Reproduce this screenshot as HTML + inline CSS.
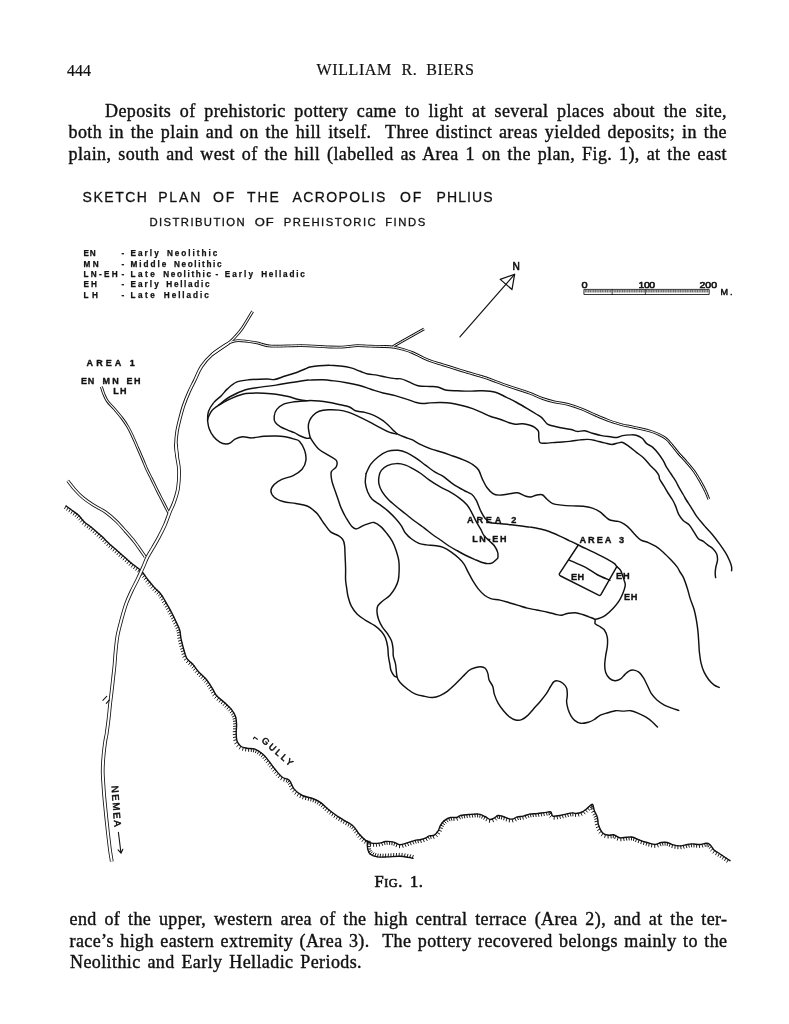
<!DOCTYPE html>
<html><head><meta charset="utf-8">
<style>
html,body{margin:0;padding:0;background:#fff;}
body{filter:grayscale(1);width:789px;height:1024px;position:relative;overflow:hidden;font-family:"Liberation Serif",serif;color:#111;}
.l{position:absolute;white-space:nowrap;font-size:18px;letter-spacing:0.4px;-webkit-text-stroke:0.4px #111;line-height:22px;text-align:justify;text-align-last:justify;}
.h{position:absolute;white-space:nowrap;font-size:16px;-webkit-text-stroke:0.2px #111;line-height:20px;text-align:justify;text-align-last:justify;}
svg{position:absolute;left:0;top:0;}
svg text{font-family:"Liberation Sans",sans-serif;fill:#111;}
</style></head><body>
<div class="h" style="left:67px;top:61.3px;width:22.5px;">444</div>
<div class="h" style="left:316.5px;top:60px;letter-spacing:0.6px;text-align-last:left;">WILLIAM</div>
<div class="h" style="left:401.4px;top:60px;letter-spacing:0.6px;text-align-last:left;">R.</div>
<div class="h" style="left:426.2px;top:60px;letter-spacing:0.6px;text-align-last:left;">BIERS</div>
<div class="l" style="left:105px;top:100px;width:622px;">Deposits of prehistoric pottery came to light at several places about the site,</div>
<div class="l" style="left:68.5px;top:121.2px;width:658.5px;">both in the plain and on the hill itself.&nbsp; Three distinct areas yielded deposits; in the</div>
<div class="l" style="left:68.5px;top:143.2px;width:658.5px;">plain, south and west of the hill (labelled as Area 1 on the plan, Fig. 1), at the east</div>

<div class="l" style="left:69.5px;top:908px;width:658px;">end of the upper, western area of the high central terrace (Area 2), and at the ter-</div>
<div class="l" style="left:69.5px;top:929.5px;width:658px;">race’s high eastern extremity (Area 3).&nbsp; The pottery recovered belongs mainly to the</div>
<div class="l" style="left:70px;top:950.8px;width:292px;">Neolithic and Early Helladic Periods.</div>
<div class="l" style="left:374.6px;top:870.7px;font-size:16.5px;letter-spacing:0.5px;-webkit-text-stroke:0.6px #111;text-align:left;text-align-last:left;">F<span style="font-size:12.2px">IG</span>.</div>
<div class="l" style="left:410px;top:870.7px;font-size:16.5px;-webkit-text-stroke:0.6px #111;text-align:left;text-align-last:left;">1.</div>

<svg width="789" height="1024" viewBox="0 0 789 1024" fill="none" stroke="#111" stroke-width="1.2" stroke-linecap="round" stroke-linejoin="round">
<path d="M66.1 506C67.1 506.8 70.2 509 72.2 510.5C74.2 512 76.3 513.2 78.3 515.1C80.3 517 82.3 520 84.3 521.9C86.3 523.8 88.4 524.9 90.4 526.5C92.4 528.1 94.5 530 96.5 531.8C98.5 533.6 100.6 535.2 102.6 537.1C104.6 539 106.7 541.3 108.7 543.2C110.7 545.1 112.8 546.8 114.8 548.6C116.8 550.4 118.8 552.1 120.8 553.9C122.8 555.7 124.9 557.4 126.9 559.2C128.9 561 131 562.9 133 564.5C135 566.1 137.4 567.6 139.1 569.1C140.8 570.6 141.7 571.3 143.2 573.2C144.7 575.1 146.5 577.9 148.3 580.3C150.2 582.7 152.3 585.2 154.3 587.4C156.3 589.6 158.5 591.1 160.4 593.5C162.3 595.9 163.8 598.7 165.5 601.6C167.2 604.5 168.9 607.5 170.6 610.7C172.3 613.9 174.1 617.6 175.6 620.8C177.1 624 178.8 627 179.7 630C180.6 633 180.4 635.9 181.1 639.1C181.8 642.3 182.8 646 183.7 649.2C184.6 652.4 185.3 655.9 186.8 658.4C188.3 660.9 191 662.3 192.9 664.4C194.8 666.5 195.9 668.7 198.1 671.2C200.3 673.7 203.8 676.4 206.2 679.3C208.6 682.2 210.6 685.7 212.3 688.4C214 691.1 214.4 693.1 216.4 695.5C218.4 697.9 222 700.2 224.5 702.6C227 705 229.8 707.3 231.6 709.7C233.4 712.1 234.8 714.3 235.6 716.8C236.4 719.3 236.5 722.2 236.6 724.9C236.7 727.6 236.1 730.3 236.2 733C236.3 735.7 236.2 738.9 237 741.1C237.8 743.3 239.1 745 240.7 746.2C242.3 747.4 244.4 747.7 246.8 748.2C249.2 748.7 252.2 748.2 254.9 749.2C257.6 750.2 260.6 752.3 263 754.3C265.4 756.3 267.1 758.9 269.1 761.4C271.1 763.9 273 766.9 275.2 769.5C277.4 772.1 279.8 775.4 282.2 777.2C284.6 779 287.3 778.3 289.3 780.3C291.3 782.3 292.1 786.9 294.3 789.4C296.5 791.9 299.3 794 302.4 795.5C305.4 797 309.6 797.3 312.6 798.5C315.7 799.7 318 800.7 320.7 802.6C323.4 804.5 326.1 807.5 328.8 809.7C331.5 811.9 334.2 813.9 336.9 815.8C339.6 817.6 342.3 819.1 345 820.8C347.7 822.5 350.7 823.7 353.1 825.9C355.5 828.1 357.2 831.6 359.2 834C361.2 836.4 363.3 838.6 365.3 840.1C367.3 841.6 369 842.6 371.4 843.1C373.8 843.6 377.1 843.4 379.5 843.1C381.9 842.8 383.2 841.7 385.6 841.5C388 841.3 391.3 841.6 393.7 842.1C396.1 842.6 397.4 844.7 399.8 844.8C402.2 844.9 405.2 843.5 407.9 842.7C410.6 841.9 414 840.6 416 840.1C418 839.6 418.3 840.2 420 839.8C421.7 839.4 424.6 838.5 426.1 837.8C427.6 837.1 427.8 836.2 429.1 835.8C430.5 835.4 432.7 836.1 434.2 835.2C435.7 834.4 437.3 832.3 438.3 830.7C439.3 829.1 439.3 827.3 440.3 825.6C441.3 823.9 442.6 822 444.3 820.6C446 819.2 448.4 818 450.4 817.5C452.4 817 454.8 817.8 456.5 817.5C458.2 817.2 458.6 816 460.6 815.5C462.6 815 465.7 814.7 468.7 814.5C471.7 814.3 476.1 813.8 478.8 814.1C481.5 814.4 483 815.6 484.9 816.5C486.8 817.4 488.5 819.2 490 819.5C491.5 819.8 492.6 818.8 494 818.1C495.4 817.4 496.6 815.8 498.1 815.5C499.6 815.2 501.2 815.9 503.1 816.5C505 817.1 507.5 818.5 509.2 818.9C510.9 819.3 511.9 819.2 513.3 818.9C514.6 818.6 515.6 817.4 517.3 816.9C519 816.4 521.4 816.6 523.4 816.1C525.4 815.6 527.1 814.5 529.5 814.1C531.9 813.7 534.9 813.8 537.6 813.5C540.3 813.2 543.5 812.6 545.7 812.4C547.9 812.1 549.6 811.4 550.8 812C552 812.6 551.3 815.5 552.8 816.1C554.3 816.7 557.7 815.8 559.9 815.5C562.1 815.2 564 814.5 566 814.1C568 813.7 570.4 813 572.1 812.9C573.8 812.8 574.4 813.6 576.1 813.5C577.8 813.4 580.4 812.9 582.2 812C584.1 811.1 585.5 809.7 587.2 808.4C588.9 807.1 591.1 804 592.3 804.3C593.5 804.6 593.4 808.2 594.3 810.4C595.1 812.6 596.7 815.1 597.4 817.5C598.1 819.9 597.6 822.1 598.4 824.6C599.2 827.1 600.7 830.9 602.4 832.7C604.1 834.5 606.6 834.9 608.5 835.2C610.4 835.6 611.7 834.4 613.6 834.8C615.5 835.2 617.5 837.4 619.7 837.8C621.9 838.2 624.6 837.3 626.8 837.2C629 837.1 630.9 836.8 632.9 837.2C634.9 837.6 636.6 838.9 639 839.8C641.4 840.7 644.4 841.7 647.1 842.5C649.8 843.3 652.8 844.5 655.2 844.5C657.6 844.5 659.3 842.8 661.3 842.5C663.3 842.2 665.3 842.1 667.3 842.5C669.3 842.9 671.4 844.3 673.4 844.9C675.4 845.5 677.5 845.9 679.5 845.9C681.5 845.9 683.6 845.2 685.6 844.9C687.6 844.6 689.3 844 691.7 843.9C694.1 843.8 697.4 844.6 699.8 844.5C702.2 844.4 704.2 843.3 705.9 843.3C707.6 843.3 708.5 843.4 709.9 844.5C711.2 845.6 712.3 848.4 714 850C715.7 851.6 718.1 852.6 720.1 854C722.1 855.4 724.6 857 726.2 858.1C727.9 859.2 729.4 860.3 730 860.7" stroke-width="1.4"/>
<path d="M66.1 506L64.6 508.6M68.3 507.6L66.7 510.2M70.4 509.2L68.9 511.8M72.6 510.8L71.1 513.4M74.8 512.4L73.3 515M77 514L75.3 516.5M79 515.8L77 518.1M80.8 517.8L78.7 520M82.5 519.9L80.4 522.1M84.3 521.9L82.5 524.3M86.4 523.6L84.8 526.2M88.6 525.2L87.1 527.8M90.7 526.8L89.1 529.3M92.8 528.5L91.1 531M94.8 530.3L93.1 532.8M96.9 532.1L95.1 534.6M98.9 533.9L97.2 536.3M101 535.6L99.2 538.1M103 537.4L101.1 539.8M104.9 539.3L102.9 541.7M106.8 541.3L104.8 543.6M108.7 543.2L106.8 545.6M110.7 545L108.9 547.4M112.7 546.8L111 549.2M114.7 548.5L113 551M116.8 550.3L115 552.8M118.8 552.1L117 554.6M120.8 553.9L119.1 556.4M122.8 555.7L121.1 558.1M124.9 557.4L123.1 559.9M126.9 559.2L125.2 561.7M128.9 561L127.2 563.5M131 562.8L129.2 565.3M133 564.5L131.4 567.1M135.2 566.2L133.6 568.7M137.4 567.7L135.8 570.3M139.5 569.4L137.8 571.9M141.5 571.3L139.5 573.6M143.3 573.3L141.1 575.4M144.9 575.4L142.6 577.4M146.4 577.7L144.1 579.6M148 579.9L145.8 581.9M149.6 582L147.5 584.1M151.4 584.1L149.3 586.2M153.1 586.1L151.1 588.3M155 588.1L153 590.4M156.9 589.9L155.1 592.3M158.9 591.8L156.9 594.1M160.7 593.8L158.5 595.9M162.2 596.1L159.8 597.9M163.6 598.4L161.2 600.1M165 600.7L162.5 602.5M166.3 603L163.9 604.8M167.7 605.4L165.2 607.1M169 607.7L166.5 609.4M170.3 610.1L167.8 611.8M171.5 612.5L169 614.1M172.7 614.9L170.2 616.5M173.9 617.3L171.4 618.9M175.1 619.7L172.5 621.3M176.3 622.2L173.7 623.8M177.5 624.6L174.9 626.2M178.6 627.1L176 628.5M179.6 629.6L176.8 630.8M180.2 632.2L177.3 633M180.5 634.9L177.6 635.5M180.8 637.6L177.9 638.3M181.3 640.2L178.5 641.1M182 642.8L179.1 643.8M182.6 645.4L179.8 646.5M183.4 648L180.6 649.2M184.1 650.6L181.3 651.7M184.8 653.3L182 654.4M185.6 655.8L182.9 657.2M186.7 658.3L184.3 660.1M188.4 660.4L186.5 662.7M190.5 662.2L188.7 664.6M192.5 663.9L190.5 666.2M194.2 666L192 668.1M195.8 668.2L193.5 670.2M197.4 670.4L195.3 672.5M199.2 672.4L197.3 674.7M201.2 674.2L199.3 676.6M203.1 676.1L201.3 678.4M205 678L203 680.2M206.8 680L204.6 682.1M208.4 682.2L206.1 684.2M209.9 684.5L207.5 686.4M211.3 686.8L208.9 688.6M212.7 689.1L210.2 690.8M213.9 691.5L211.4 693.1M215.2 693.9L212.8 695.7M216.8 696L214.8 698.2M218.8 697.8L217.1 700.3M220.9 699.6L219.2 702.1M223 701.3L221.3 703.7M225 703.1L223.2 705.5M227 704.9L225.1 707.3M228.9 706.8L227 709.1M230.8 708.7L228.7 710.9M232.5 710.8L230.2 712.8M233.9 713.1L231.5 714.9M235.1 715.5L232.5 716.9M236 718.1L233.1 719.1M236.4 720.8L233.4 721.4M236.5 723.5L233.6 723.9M236.6 726.1L233.6 726.4M236.4 728.8L233.4 728.9M236.2 731.5L233.2 731.7M236.2 734.2L233.2 734.6M236.3 736.9L233.4 737.5M236.6 739.6L233.8 740.5M237.4 742.2L234.8 743.7M238.9 744.5L236.7 746.6M240.8 746.3L239.4 749M243.3 747.4L242.6 750.3M245.9 748L245.6 751M248.6 748.4L248.6 751.4M251.3 748.5L251.3 751.6M253.9 748.9L253.5 751.9M256.5 749.9L255.5 752.7M258.8 751.2L257.5 753.9M261 752.7L259.5 755.3M263.1 754.4L261.4 756.9M265 756.3L263 758.6M266.8 758.4L264.6 760.5M268.4 760.5L266.2 762.6M270.1 762.7L267.9 764.7M271.7 764.8L269.4 766.9M273.3 767L271.1 769.1M274.9 769.2L272.8 771.3M276.6 771.3L274.5 773.4M278.4 773.3L276.3 775.5M280.2 775.3L278.2 777.7M282.2 777.2L280.7 779.8M284.6 778.3L283.8 781.2M287.2 779L286.3 781.9M289.4 780.5L287.5 782.8M290.9 782.7L288.4 784.4M292 785.2L289.4 786.7M293.1 787.6L290.7 789.4M294.7 789.8L292.6 792M296.6 791.7L294.9 794.2M298.8 793.4L297.3 796M301 794.8L299.9 797.6M303.5 796L302.6 798.9M306 796.8L305.5 799.7M308.7 797.4L308.2 800.4M311.3 798.1L310.7 801M313.8 799L313 801.9M316.3 800.1L315.3 802.9M318.7 801.3L317.4 804.1M321 802.8L319.4 805.4M323.1 804.5L321.3 806.9M325 806.3L323.2 808.7M327 808.1L325.2 810.6M329.1 809.9L327.4 812.4M331.2 811.6L329.6 814.1M333.3 813.2L331.8 815.8M335.5 814.8L334 817.4M337.7 816.4L336.3 819M340 817.8L338.7 820.5M342.3 819.2L341 821.9M344.6 820.6L343.4 823.3M347 821.9L345.7 824.7M349.3 823.2L348.1 826M351.6 824.7L350.1 827.3M353.6 826.5L351.7 828.8M355.3 828.6L353.1 830.6M356.9 830.8L354.6 832.7M358.4 833L356.2 835.1M360.1 835.1L358.1 837.3M362 837.1L360 839.4M363.9 838.9L362.1 841.4M366 840.6L364.5 843.2M368.3 842L367.3 844.9M370.8 843L370.4 845.9M373.5 843.4L373.6 846.4M376.2 843.4L376.6 846.4M378.9 843.2L379.6 846.1M381.5 842.6L382.6 845.4M384.1 841.8L385 844.6M386.8 841.5L387.2 844.4M389.5 841.5L389.6 844.5M392.1 841.8L391.9 844.8M394.8 842.5L393.9 845.4M397.1 843.8L396.1 846.7M399.6 844.8L399.5 847.8M402.3 844.5L403.1 847.4M404.8 843.7L406 846.5M407.4 842.9L408.6 845.6M410 842L411.2 844.8M412.5 841.2L413.8 843.9M415.1 840.3L416.1 843.2M417.7 839.9L418.4 842.8M420.4 839.7L421.3 842.6M423 838.9L424.2 841.7M425.6 838L427.2 840.6M427.8 836.6L429.4 839.1M430.3 835.6L431.1 838.5M433 835.6L434 838.4M435.3 834.4L437.4 836.6M437.1 832.4L439.7 834M438.6 830.1L441.4 831.2M439.5 827.6L442.4 828.4M440.6 825.1L443.4 826.3M442.1 822.9L444.6 824.5M443.9 820.9L446.1 823M446.1 819.3L447.9 821.8M448.5 818.1L449.9 820.8M451.1 817.4L451.8 820.3M453.8 817.5L454 820.5M456.5 817.5L457.5 820.3M458.9 816.3L460.4 818.9M461.4 815.3L462.4 818.2M464.1 814.9L464.7 817.9M466.7 814.7L467.3 817.6M469.4 814.4L470 817.4M472.1 814.2L472.7 817.2M474.8 814L475.2 817M477.5 814L477.6 817M480.2 814.4L479.7 817.3M482.7 815.4L481.7 818.2M485.1 816.6L483.8 819.3M487.4 818.1L486 820.8M489.7 819.4L489.4 822.4M492.3 819L493.5 821.8M494.6 817.7L496.5 820.1M496.8 816.1L498.3 818.7M499.3 815.5L499.6 818.5M502 816.1L501.4 819.1M504.5 817L503.7 819.9M507 818.1L506.2 821M509.5 819L509.3 822M512.2 819.1L512.9 822M514.7 818.2L516.2 820.9M517.1 817L518.4 819.7M519.8 816.5L520.5 819.5M522.5 816.3L523.3 819.2M525.1 815.6L526.3 818.3M527.6 814.6L528.8 817.4M530.2 814L531 816.9M532.9 813.8L533.4 816.7M535.6 813.6L536.1 816.6M538.3 813.4L538.9 816.4M541 813.1L541.7 816M543.6 812.7L544.3 815.6M546.3 812.3L547.1 815.2M549 811.8L549.1 814.8M551.3 812.6L549.3 814.8M552 815.2L549.8 817.3M554.3 816.3L554.1 819.3M556.9 816L557.6 818.9M559.6 815.5L560.4 818.4M562.2 815L563.2 817.9M564.9 814.4L565.9 817.2M567.5 813.8L568.4 816.6M570.1 813.2L570.9 816.1M572.8 812.9L572.9 815.9M575.4 813.5L575.6 816.5M578.1 813.2L578.9 816.1M580.7 812.6L582 815.3M583.2 811.5L585 813.9M585.4 809.9L587.4 812.1M587.5 808.2L589.7 810.2M589.4 806.3L591.7 808.3M591.4 804.5L592.1 807.4M593.2 805.8L590.8 807.6M593.8 808.4L590.9 809.4M594.5 811L591.8 812.3M595.7 813.4L593.1 815M596.8 815.9L594.1 817.2M597.6 818.4L594.7 819.3M597.9 821.1L594.9 821.7M598.2 823.8L595.3 824.8M599 826.4L596.3 827.7M600.1 828.9L597.5 830.4M601.3 831.3L599 833.2M603.1 833.3L601.4 835.8M605.5 834.5L604.7 837.4M608.1 835.1L608.1 838.1M610.8 835L611.2 838M613.4 834.8L613.2 837.8M615.9 835.9L614.7 838.7M618.2 837.3L617.3 840.2M620.8 837.9L620.9 840.9M623.5 837.7L624.1 840.6M626.1 837.3L626.8 840.2M628.8 837.1L629.3 840M631.5 837L631.5 840M634.1 837.6L633.5 840.5M636.6 838.7L635.6 841.6M639.1 839.8L638.2 842.7M641.6 840.7L640.9 843.7M644.2 841.6L643.5 844.5M646.7 842.4L646.1 845.3M649.3 843.2L648.7 846.1M651.9 844L651.5 847M654.6 844.5L654.8 847.5M657.2 844.1L658.3 846.9M659.7 843L660.9 845.8M662.3 842.4L663 845.3M665 842.2L665.1 845.2M667.6 842.6L667.2 845.6M670.2 843.6L669.3 846.4M672.6 844.6L671.9 847.6M675.2 845.4L674.9 848.4M677.9 845.8L677.9 848.8M680.6 845.8L681.1 848.8M683.2 845.4L684.1 848.3M685.9 844.8L686.8 847.7M688.5 844.3L689.3 847.2M691.2 843.9L691.7 846.9M693.9 844L694 847M696.6 844.3L696.6 847.3M699.3 844.5L699.6 847.5M701.9 844.2L702.8 847.1M704.6 843.5L705.3 846.4M707.2 843.3L707 846.4M709.7 844.3L708.2 846.9M711.4 846.4L709.2 848.4M712.9 848.7L710.7 850.8M714.7 850.6L713 853.1M717 852.1L715.6 854.8M719.3 853.5L718 856.2M721.6 855L720.2 857.6M723.8 856.5L722.4 859.1M726 858L724.6 860.6M728.3 859.5L726.8 862.2" stroke-width="0.95"/>
<path d="M367.3 841.1C367.4 842.5 367.2 847 367.7 849.2C368.2 851.4 368.8 853 370.4 854.3C372 855.6 374.6 856.5 377.5 856.9C380.4 857.3 383.9 857 387.6 856.9C391.3 856.8 396.4 856.2 399.8 856.3C403.2 856.4 405.7 856.9 407.9 857.3C410.1 857.6 412.1 858.2 413 858.4" stroke-width="1.4"/>
<path d="M367.3 841.1L370.3 841.4M367.3 843.8L370.3 844.1M367.4 846.5L370.4 846.6M367.7 849.2L370.7 848.9M368.5 851.8L371.3 850.7M370 854L372.3 852M372.3 855.4L373.9 852.9M374.8 856.3L375.9 853.5M377.4 856.9L378.2 854M380.1 857.1L380.5 854.1M382.8 857.1L383.1 854.1M385.5 857L385.7 854M388.2 856.9L388.4 853.9M390.9 856.7L391 853.7M393.6 856.6L393.7 853.5M396.3 856.4L396.5 853.4M399 856.3L399.3 853.3M401.7 856.4L402.2 853.4M404.4 856.7L405.1 853.8M407.1 857.2L407.9 854.3M409.7 857.6L410.6 854.8M412.3 858.2L413.3 855.4" stroke-width="0.95"/>
<path d="M207.6 420.8C207.7 419.3 207.4 414.7 208.4 411.7C209.4 408.7 211.5 405.3 213.7 402.6C215.8 399.9 219 398 221.3 395.7C223.6 393.4 224.9 391.2 227.4 388.9C229.9 386.6 232.9 383.6 236.5 382.1C240.1 380.6 243.6 380.3 248.7 379.8C253.8 379.3 262.6 379.1 266.9 379C271.2 378.9 271.4 380 274.5 379.5C277.6 379 281.4 377.2 285.2 376C289 374.8 293.8 373.5 297.3 372.2C300.9 370.9 304.4 369.3 306.5 368.4C308.6 367.5 307.9 367.4 310 367C312.1 366.6 315.8 366 319.1 365.7C322.4 365.4 326.2 365.1 329.8 365.2C333.4 365.2 336.8 365.6 340.4 366C343.9 366.4 347.8 367 351.1 367.9C354.4 368.8 357.4 370.3 360.2 371.3C363 372.3 365 373.4 367.8 374C370.6 374.6 373.9 374.6 376.9 375.1C379.9 375.6 382.9 376.5 386 377.1C389.1 377.7 392.6 378.3 395.2 378.6C397.8 378.9 399 378.3 401.3 378.9C403.6 379.4 406.1 380.8 408.9 381.9C411.7 383 414.5 384.9 418 385.7C421.5 386.5 426.7 386.3 430 386.5C433.3 386.7 434.8 386.4 437.6 387C440.4 387.6 443.4 389.7 446.7 390.3C450 390.9 453.6 390.7 457.4 390.8C461.2 390.9 465.4 391.1 469.5 391.1C473.6 391.1 477.4 390.6 481.7 390.8C486 391 491.3 391.2 495.4 392.3C499.4 393.4 502.4 395.4 506 397.1C509.6 398.8 513.2 400.6 516.7 402.5C520.2 404.4 524.1 406.7 527.3 408.6C530.5 410.5 533.6 412.4 536.1 414C538.6 415.6 540.3 416.4 542.2 418.1C544.1 419.8 545.5 422.9 547.5 424.2C549.5 425.5 551.6 425.5 554.3 426.2C557 426.9 560.7 427.8 563.5 428.3C566.3 428.9 568.8 429 571.1 429.5C573.4 430 574.8 431.2 577.1 431.4C579.4 431.6 582.2 430.5 584.8 430.8C587.3 431.1 589.6 432.5 592.4 433.3C595.2 434.1 598.5 435 601.5 435.6C604.5 436.2 608.1 436.5 610.6 436.8C613.1 437.1 614.7 437.7 616.7 437.5C618.7 437.3 620.5 436 622.8 435.6C625.1 435.2 628.2 435 630.4 434.9C632.6 434.8 634.1 434.6 636.1 435.2C638.1 435.8 640.4 436.9 642.2 438.3C644 439.7 644.9 442.1 646.7 443.6C648.5 445.1 650.8 445.6 652.8 447.4C654.8 449.2 657.1 451.9 658.9 454.2C660.7 456.5 662.2 459 663.5 461.1C664.8 463.2 665.2 465 666.5 467.1C667.8 469.2 669.6 471.7 671.1 474C672.6 476.3 674.3 478.7 675.6 480.8C676.9 482.9 677.4 484.6 678.7 486.9C680 489.2 681.9 492.3 683.2 494.5C684.5 496.7 685 497.9 686.3 500C687.6 502.1 689 504 690.8 506.8C692.6 509.6 694.6 513.5 696.9 516.7C699.2 519.9 702 523 704.5 525.9C707 528.8 709.6 531.2 712.1 534.2C714.6 537.2 717.4 540.9 719.7 544.1C722 547.3 724.1 550.4 725.8 553.2C727.4 556 728.6 558.5 729.6 560.8C730.6 563.1 731.3 565.2 731.6 566.9C731.9 568.5 731.6 570.1 731.6 570.7" stroke-width="1.45"/>
<path d="M207.6 420.8C207.8 422.1 208.1 425.7 209.1 428.4C210.1 431.1 211.9 434.5 213.7 436.8C215.5 439.1 217.8 440.9 219.8 442.1C221.8 443.3 224.1 443.9 225.9 444C227.7 444.1 228.9 443.7 230.4 442.9C231.9 442.1 233 440.1 235 439.1C237 438.1 239.8 437 242.6 436.8C245.4 436.6 248.1 438 251.7 437.9C255.2 437.8 259.8 436.6 263.9 436.3C267.9 436 272.4 435.9 276 436C279.6 436.1 282.1 436.3 285.2 436.8C288.2 437.3 291.9 438.3 294.3 439.1C296.7 439.9 297.9 439.5 299.6 441.4C301.3 443.3 303.6 447.1 304.6 450.3C305.7 453.5 306.3 457.2 305.9 460.4C305.5 463.6 304.2 466.8 302.1 469.3C300 471.8 296.6 473.9 293.2 475.6C289.8 477.3 285 477.9 281.8 479.4C278.6 480.9 276 482.6 274.2 484.5C272.4 486.4 270.9 488.7 270.9 490.8C270.9 492.9 272.2 495.4 274.2 497.2C276.2 499 279.5 500.4 283.1 501.5C286.7 502.6 291.8 502.8 295.8 503.5C299.8 504.2 303.8 504.5 307.2 506C310.6 507.5 313.9 510.5 316 512.4C318.1 514.3 318.6 515.5 320 517.5C321.4 519.5 322.8 521.9 324.6 524.3C326.4 526.7 328.3 530 330.6 531.9C332.9 533.8 336.3 534.4 338.3 535.7C340.3 537 341.8 537.9 342.8 539.5C343.9 541.1 344.2 542.8 344.6 545.6C345 548.4 344.9 552.5 345.1 556.3C345.3 560.1 345.5 564.4 345.6 568.4C345.7 572.4 345.4 576.8 345.6 580C345.8 583.2 346.2 584.8 346.6 587.6C347 590.4 347.3 593.7 348.1 596.7C348.9 599.8 349.7 603 351.2 605.9C352.7 608.8 354.9 611.8 357.3 614.2C359.7 616.6 362.7 618.4 365.6 620.3C368.5 622.2 372.1 623.7 374.8 625.6C377.5 627.5 379.8 629.7 381.6 631.7C383.4 633.7 384.4 635.3 385.4 637.8C386.4 640.3 387.2 643.9 387.7 646.9C388.2 649.9 388 653 388.4 656C388.8 659 389.6 662.8 390 665.2C390.4 667.6 390.3 668.7 391 670.5C391.7 672.3 393.3 674.8 394.3 675.9C395.3 677 396.6 676.9 397.1 677.1" stroke-width="1.45"/>
<path d="M207.8 419C207.9 418.6 207.9 418 208.6 416.5C209.3 415 210.5 412.1 212.2 410.2C213.9 408.3 216 407.2 219 404.9C222 402.6 226 399 230.4 396.5C234.8 394 240.5 391.3 245.6 389.7C250.7 388.1 255.7 387.9 260.8 387.1C265.9 386.3 270.9 385.9 276 385.1C281.1 384.3 286.2 383.3 291.3 382.5C296.4 381.7 303.4 380.6 306.5 380.2C309.6 379.8 307.4 380.2 310 380.1C312.6 380 318.1 379.7 322.2 379.8C326.2 379.9 330.2 380.4 334.3 380.9C338.4 381.4 342.4 382 346.5 382.7C350.6 383.4 354.6 384.2 358.7 385.3C362.8 386.4 366.8 387.9 370.8 389.2C374.9 390.5 378.9 391.9 383 393C387.1 394.1 391.1 394.5 395.2 395.6C399.2 396.7 403.8 398.2 407.3 399.4C410.9 400.5 414 401.8 416.5 402.5C419 403.2 420.2 403.4 422.5 403.5C424.8 403.6 427 403.1 430 402.9C433 402.7 437.1 402.4 440.6 402.5C444.2 402.6 447.8 402.7 451.3 403.2C454.9 403.7 458.3 404.6 461.9 405.5C465.4 406.4 469.3 407.5 472.6 408.6C475.9 409.8 478.7 411.1 481.7 412.4C484.7 413.7 487.8 415.4 490.8 416.5C493.9 417.6 496.9 418.2 500 419.2C503.1 420.2 506.6 421.9 509.1 422.7C511.6 423.5 512.9 424 515.2 424.2C517.5 424.4 520.3 423.6 522.8 423.8C525.3 424 528 424.7 530 425.3C532 425.9 533.2 426.3 534.6 427.3C536 428.3 537.7 429.5 538.4 431.1C539.1 432.7 538.5 435.2 538.8 437.1C539 439 538.8 441.5 539.9 442.5C541 443.5 542.3 443.2 545.2 443.2C548.1 443.1 553.4 442.5 557.4 442.2C561.4 441.9 565.7 441.8 569.5 441.4C573.3 441 577.2 440.2 580.2 439.9C583.2 439.6 585.3 439.3 587.8 439.4C590.3 439.5 592.6 440 595.4 440.6C598.2 441.2 601.7 442.3 604.5 442.9C607.3 443.5 609.8 444.4 612.1 444.4C614.4 444.4 616.4 443.2 618.2 442.9C620 442.6 621 441.9 622.8 442.5C624.6 443.1 626.6 444.7 628.9 446.3C631.2 447.9 634 450.4 636.5 452.4C639 454.3 641.5 455.9 643.7 458C645.9 460.1 647.8 462.7 649.8 464.9C651.8 467.1 654.4 469.2 655.9 471C657.4 472.8 658.3 474.1 658.9 475.5C659.5 476.9 658.9 477.7 659.7 479.3C660.5 480.9 662.1 483.1 663.5 485.4C664.9 487.7 666.5 490.6 668 493C669.5 495.4 671.3 497.8 672.6 500C673.9 502.2 674.6 503.7 675.6 506.1C676.6 508.5 677.4 512 678.7 514.4C680 516.8 681.4 518.7 683.2 520.5C685 522.3 687.5 523.2 689.3 525.1C691.1 527 692.4 529.6 693.9 531.9C695.4 534.2 696.9 537.3 698.4 538.8C699.9 540.3 701.5 540.1 703 541.1C704.5 542.1 706 543.6 707.6 544.9C709.2 546.2 711.4 547.2 712.9 548.7C714.4 550.2 715.9 552.1 716.7 554C717.5 555.9 717.6 558 717.5 560.1C717.4 562.2 716.3 564.8 715.9 566.9C715.5 569 715.2 571.2 715.2 573C715.2 574.8 715.5 576.8 715.6 577.6" stroke-width="1.45"/>
<path d="M219 404.9C220.9 403.9 226.5 400.6 230.4 398.8C234.3 397 239.1 395.1 242.6 394.2C246.1 393.3 248.1 393.4 251.7 393.2C255.2 393 259.8 393 263.9 393.2C267.9 393.4 271.9 393.6 276 394.2C280.1 394.8 284.6 395.7 288.2 396.5C291.8 397.3 294.2 398.5 297.3 399.2C300.4 399.9 304.4 400.6 306.5 400.8C308.6 401 307.9 400.5 310 400.5C312.1 400.5 315.8 400.7 319.1 401C322.4 401.3 326.2 401.9 329.8 402.5C333.4 403.1 337.1 404.1 340.4 404.8C343.7 405.6 347 406 349.5 407C352 408 353.1 409.9 355.6 410.8C358.2 411.7 361.8 411.6 364.8 412.4C367.9 413.2 370.9 414 373.9 415.4C376.9 416.8 380.5 418.9 383 420.7C385.5 422.5 387.3 424.4 389.1 426C390.9 427.6 392.2 429.2 393.7 430.6C395.2 432 396.2 433.2 398.2 434.4C400.2 435.5 403.5 436.6 405.8 437.5C408.1 438.4 409.4 438.5 411.9 439.7C414.4 440.9 417.5 443 420.8 444.6C424.1 446.2 427.9 447.8 431.5 449.1C435.1 450.4 438.6 451.1 442.1 452.2C445.7 453.3 449.2 454.7 452.8 456C456.4 457.3 460.1 458.4 463.4 459.8C466.7 461.2 470 462.6 472.5 464.3C475 466 477 467.5 478.6 470C480.2 472.5 481 476.2 482.4 479.1C483.8 482 485.1 485.1 486.9 487.5C488.7 489.9 491 492.3 493 493.6C495 494.9 496.6 495 499.1 495.1C501.6 495.2 505.2 494.4 508.2 494C511.2 493.6 514.5 492.5 517.3 492.8C520.1 493.1 522.7 495.2 524.9 495.9C527.1 496.6 528.6 497.1 530.5 497C532.4 496.9 534.1 495.6 536.1 495.2C538.1 494.8 540.4 494.2 542.2 494.8C544 495.4 544.9 497.5 546.7 499C548.5 500.5 550.3 502.6 552.8 503.6C555.3 504.6 558.6 504.7 561.9 505.1C565.2 505.5 569 505.7 572.6 505.9C576.2 506.1 579.9 505.8 583.2 506.2C586.5 506.6 589.6 507.2 592.4 508.1C595.2 509.1 597.7 510.4 600 511.9C602.3 513.4 604.2 515.9 606 517.3C607.8 518.7 608.6 519.6 610.6 520.3C612.6 521 615.9 520.8 618.2 521.4C620.5 522 622.3 522.9 624.3 524.1C626.3 525.4 628.3 527.2 630 528.9C631.7 530.6 632.8 532.4 634.6 534.2C636.4 536 638.3 538.4 640.6 539.8C642.9 541.2 645.8 541.5 648.3 542.6C650.8 543.7 653.4 544.8 655.9 546.4C658.4 548 661 550.2 663.5 552.5C666 554.8 668.8 557.7 671.1 560.1C673.4 562.5 675.6 564.9 677.1 566.9C678.6 568.9 678.9 570.2 680 572C681.1 573.8 682.3 574.9 683.5 577.6C684.7 580.3 686.2 584.8 687.3 588.3C688.4 591.8 689.2 595.4 690.3 598.9C691.4 602.4 693.1 606 694.1 609.5C695.1 613 695.8 616.7 696.4 620.2C697 623.8 697.5 627.2 697.9 630.8C698.3 634.3 698.5 638 698.7 641.5C699 645 699 648.6 699.4 652.1C699.8 655.6 700.2 659.5 701 662.8C701.8 666.1 702.7 669.1 704 671.9C705.3 674.7 707 677.4 708.6 679.5C710.2 681.6 712.1 683.5 713.9 684.8C715.7 686.1 718.3 687 719.2 687.4" stroke-width="1.45"/>
<path d="M306.5 400.8C304.5 401 298.1 401.2 294.3 401.8C290.5 402.4 286.6 402.8 283.7 404.1C280.8 405.4 278.4 407.4 276.8 409.4C275.2 411.4 274.4 414.1 274.2 416.3C273.9 418.5 274.2 420.6 275.3 422.4C276.4 424.2 278.5 425.6 280.6 426.9C282.8 428.2 285.9 429.3 288.2 430.3C290.5 431.3 292.3 431.8 294.3 432.7C296.3 433.6 298.4 435.1 300.4 436C302.4 436.9 304.9 438 306.5 438.3C308.1 438.6 309.7 438 310.3 437.9" stroke-width="1.45"/>
<path d="M396.7 434.1C395.4 433.8 391.9 433.2 389.1 432.1C386.3 431 383.3 429.3 380 427.6C376.7 425.9 372.9 423.6 369.3 421.8C365.8 420 362.2 418.2 358.7 416.6C355.1 415 351.3 413.2 348 412.1C344.7 411 342.2 410.5 338.9 410.1C335.6 409.7 331.6 409.6 328.3 409.8C325 410 321.7 410.4 319.1 411.3C316.6 412.2 314.6 413.8 313 415.4C311.4 417 310.3 418.9 309.5 420.8C308.7 422.7 308.3 424.6 308.3 426.9C308.3 429.2 309.1 432.5 309.5 434.5C309.9 436.5 309.5 436.5 311 438.9C312.5 441.3 315.7 446.3 318.6 449C321.6 451.7 325.8 453.4 328.7 455.3C331.6 457.2 335 458.5 336.3 460.4C337.6 462.3 337.1 464.9 336.3 466.8C335.5 468.7 332.1 469.5 331.3 471.8C330.6 474.1 331.2 477.5 331.8 480.7C332.4 483.9 334 487.6 335.1 490.8C336.2 494 337.3 497.1 338.3 500C339.3 502.9 340 505.5 341.3 508.4C342.6 511.3 344.1 514.5 345.9 517.5C347.7 520.5 350.1 524.7 351.9 526.6C353.7 528.5 354.7 529 356.5 528.9C358.3 528.8 360.6 526.8 362.6 525.9C364.6 525 366.8 524.2 368.7 523.6C370.6 523 372 522 374 522.5C376 523 378.7 524.8 380.8 526.6C382.9 528.4 385 531.1 386.9 533.5C388.8 535.9 390.7 538.3 392.2 541.1C393.7 543.9 394.9 546.9 396 550.2C397.1 553.5 398.3 557.2 398.8 560.8C399.3 564.3 399.2 568.3 399.1 571.5C399 574.7 398.9 577.3 398.3 580C397.7 582.7 396.7 585.1 395.3 587.6C393.9 590.1 392.1 592.9 390 595.2C387.9 597.5 384.4 599.5 382.4 601.3C380.4 603.1 378.7 604.1 377.8 605.9C376.9 607.7 376.9 609.6 377 611.9C377.1 614.2 377.7 617 378.6 619.5C379.5 622 380.9 624.7 382.4 627.1C383.9 629.5 386.2 631.7 387.7 634C389.2 636.3 390.6 638.4 391.5 640.8C392.4 643.2 392.7 645.9 393 648.4C393.3 650.9 392.9 653.3 393.3 656C393.7 658.7 395 661 395.6 664.5C396.2 668 396.3 674.1 397.1 677.1C397.9 680.1 398.6 680.6 400.4 682.7C402.2 684.8 405.5 687.6 408 689.5C410.5 691.4 412.8 693 415.6 694.1C418.4 695.2 422 695.8 424.8 696.4C427.6 697 429.9 697.6 432.4 697.5C434.9 697.4 437.5 696.7 440 695.6C442.5 694.5 445.1 693 447.6 691.1C450.1 689.2 452.7 686.6 455.2 684.2C457.7 681.8 460.5 678.9 462.8 676.6C465.1 674.3 466.9 672 468.9 670.5C470.9 669 472.7 668.5 474.6 667.9C476.6 667.3 478.8 666.6 480.6 666.7C482.4 666.8 484 667.1 485.2 668.3C486.4 669.4 487.3 671.7 487.9 673.6C488.5 675.5 488.2 677.6 489 679.7C489.8 681.9 491.9 684.1 492.8 686.5C493.7 688.9 493.4 691.3 494.3 694.1C495.2 696.9 496.6 700.4 498.1 703.2C499.6 706 501.6 708.5 503.5 710.8C505.4 713.1 507.5 715.4 509.5 716.9C511.5 718.4 513.6 719.5 515.6 720C517.6 720.5 519.7 720.5 521.7 719.7C523.7 718.9 525.8 717.2 527.8 715.4C529.8 713.5 531.9 710.9 533.9 708.6C535.9 706.3 538 704.1 540 701.7C542 699.3 544.2 696.6 546 694.1C547.8 691.6 549.3 688.5 550.6 686.5C551.9 684.5 552.6 682.8 553.7 681.9C554.9 681 556 680.7 557.5 680.9C559 681.1 561.3 682 562.8 683.2C564.3 684.4 565.9 686 566.6 688C567.4 690 567.3 692.6 567.3 694.9C567.3 697.2 566.5 699.3 566.6 701.7C566.7 704.1 567.4 706.9 568.1 709.3C568.9 711.7 570 714.4 571.1 716.2C572.2 718 573 719.1 574.6 720.3C576.2 721.5 578.3 723 580.6 723.3C582.9 723.6 586 722.8 588.3 722.2C590.6 721.6 592.3 720.7 594.3 719.5C596.3 718.3 598.1 716.3 600.4 715.2C602.7 714.1 605.5 713.5 608 712.7C610.5 712 613.1 711 615.6 710.7C618.1 710.4 620.7 711.1 623.2 711.1C625.7 711.1 628.3 710.3 630.8 710.7C633.3 711.1 635.9 712.3 638.4 713.4C640.9 714.5 643.7 715.8 646 717.2C648.3 718.6 650.2 720.1 652.1 721.8C654 723.4 656.6 726.2 657.5 727.1" stroke-width="1.45"/>
<path d="M366.1 473.5C366.9 472 368.6 467.1 370.6 464.3C372.6 461.5 375.5 458.9 378.3 456.7C381.1 454.5 384.1 452.5 387.4 451.4C390.7 450.3 394.7 450.1 398 450.3C401.3 450.6 404.1 451.6 407.1 452.9C410.2 454.2 413.2 456.3 416.3 458.3C419.4 460.3 422.1 462.7 425.4 465.1C428.7 467.5 433.1 470.9 436 472.7C438.9 474.5 439.9 474.2 442.8 476.1C445.7 478.1 449.9 482 453.5 484.4C457.1 486.8 461.1 488.9 464.1 490.5C467.1 492.1 469.7 492.7 471.7 494.3C473.7 495.9 474.8 497.6 476.3 500.4C477.8 503.2 479.3 508.1 480.8 511.1C482.3 514.2 483.9 516.8 485.4 518.7C486.9 520.6 487.7 521.7 490 522.5C492.3 523.3 495.6 523.1 499.1 523.5C502.7 523.9 507.2 524.3 511.3 524.8C515.4 525.3 520.3 525.9 523.4 526.3C526.5 526.7 527.4 526.7 530 527.1C532.6 527.5 535.8 527.9 539.1 528.7C542.4 529.5 546.2 530.4 549.8 531.7C553.3 533 557.1 534.8 560.4 536.3C563.7 537.8 566.5 539.3 569.5 540.8C572.5 542.2 573.6 542.7 578.3 545C583 547.3 592.8 551.9 597.8 554.4C602.8 556.9 605.6 558.3 608.4 559.8C611.2 561.3 613.1 562.5 614.5 563.6C615.9 564.7 615.8 565.5 616.8 566.6C617.8 567.7 619.3 568 620.6 570.4C621.9 572.8 623.6 578.6 624.4 581.1C625.2 583.6 625.5 583.6 625.2 585.6C625 587.6 623.9 590.7 622.9 593.2C621.9 595.7 620.8 598.3 619.1 600.8C617.5 603.3 615.3 606 613 608.4C610.7 610.8 607.7 613.6 605.4 615.3C603.1 616.9 601.1 617.6 599.3 618.3C597.5 619 595.5 619.2 594.8 619.4" stroke-width="1.45"/>
<path d="M366.1 473.5C366 475 365.1 479.6 365.3 482.6C365.6 485.6 366.5 488.9 367.6 491.7C368.8 494.5 370 497 372.2 499.3C374.4 501.6 378.1 503.3 380.8 505.3C383.5 507.3 385.9 509.1 388.4 511.4C390.9 513.7 393.8 516.6 396 519C398.2 521.4 399.9 523.6 401.4 525.9C402.9 528.2 403.5 530.6 405.2 532.7C406.9 534.9 409 537 411.3 538.8C413.6 540.6 416.4 542.3 418.9 543.3C421.4 544.3 423.6 544.5 426.5 544.9C429.4 545.3 433.2 545.3 436.1 545.8C439 546.2 441.2 546.5 443.7 547.6C446.2 548.7 448.8 550.4 451.3 552.2C453.8 554 456.8 556.3 458.9 558.3C461 560.3 462.7 562 464.2 564.3C465.7 566.6 466.6 569.2 468 571.9C469.4 574.6 470.8 577.4 472.6 580.3C474.4 583.2 476.7 586.9 478.7 589.4C480.7 591.9 482.8 594 484.8 595.5C486.8 597 488.3 597.8 490.8 598.6C493.3 599.4 496.9 599.4 500 600.1C503.1 600.8 506.1 601.8 509.1 602.7C512.1 603.6 515.2 604.5 518.2 605.4C521.2 606.3 524.2 607.3 527.3 608.1C530.3 608.9 533.1 609.3 536.5 610C539.9 610.7 544.5 611.5 547.6 612.2C550.7 612.9 552.9 613.7 555.2 614.2C557.5 614.7 559.3 615.4 561.3 615.3C563.3 615.2 565.1 613.9 567.4 613.5C569.7 613.1 572.5 612.5 575 612.7C577.5 612.9 580.3 613.8 582.6 614.5C584.9 615.2 586.7 616 588.7 616.8C590.7 617.6 593.7 618.2 594.8 619.4C595.9 620.5 594.4 622.6 595.1 623.7C595.8 624.8 597.4 625 598.9 626C600.4 627 602.8 627.9 604.2 629.8C605.6 631.7 606.8 634.6 607.3 637.4C607.8 640.2 607.6 643.5 607.3 646.5C607 649.5 606.1 652.6 605.7 655.6C605.3 658.6 604.7 662 604.7 664.8C604.7 667.6 604.9 670.1 605.7 672.4C606.5 674.7 608 677 609.5 678.4C611 679.8 613.1 680.6 614.9 680.7C616.7 680.8 618.6 680.2 620.2 679.2C621.9 678.2 623.3 676 624.8 674.6C626.3 673.2 627.8 671.5 629.3 670.8C630.8 670 632.2 669.8 633.9 670.1C635.5 670.4 637.6 671 639.2 672.4C640.9 673.8 642.4 676.1 643.8 678.4C645.2 680.7 646.3 683.5 647.6 686C648.9 688.5 649.9 691.4 651.4 693.7C652.9 696 654.6 697.8 656.7 699.7C658.9 701.6 661.8 703.7 664.3 705.1C666.8 706.5 669.5 707.2 671.9 708.1C674.3 709 677.6 710 678.7 710.4" stroke-width="1.45"/>
<path d="M379 476.5C379.4 474.2 379.9 472.2 381.3 470.4C382.7 468.6 384.9 466.7 387.4 465.6C389.9 464.5 393.5 463.7 396.5 463.6C399.5 463.5 402.8 464.2 405.6 465.1C408.4 466 410.7 467.5 413.2 468.9C415.7 470.3 418.1 471.7 420.8 473.5C423.5 475.3 425.9 477.7 429.1 479.9C432.3 482.1 436.2 484.7 439.8 486.7C443.4 488.7 447.1 490.2 450.4 492.1C453.7 494 456.7 496 459.5 498.1C462.3 500.2 465.1 502.6 467.1 505C469.1 507.4 470.2 509.8 471.7 512.6C473.2 515.4 474.8 518.9 476.3 521.7C477.8 524.5 479.5 527 480.8 529.3C482.1 531.6 482.4 533.4 483.9 535.4C485.4 537.4 488.2 539.7 490 541.5C491.8 543.3 493.2 544.2 494.5 546C495.8 547.8 497 550.2 497.6 552.1C498.2 554 498 556.4 497.9 557.5C497.8 558.6 497.8 558.1 496.9 559C496 559.9 493.9 562 492.4 562.8C490.9 563.6 489.3 563.6 487.8 563.6C486.3 563.6 485.4 563.5 483.2 562.8C481 562.1 477.4 560.5 474.5 559.3C471.6 558.1 468.8 556.9 466 555.5C463.2 554.1 460.5 552.6 457.7 551C454.9 549.4 451.9 547.8 449 546C446.1 544.2 443.2 541.9 440.5 540C437.8 538.1 435.2 536.5 432.5 534.5C429.8 532.5 427.4 530.5 424.4 528.2C421.4 526 417.7 523.4 414.5 521C411.3 518.6 408.4 516.1 405.4 513.7C402.4 511.3 399.2 508.9 396.3 506.5C393.4 504.1 390.5 501.8 388.1 499.3C385.7 496.8 383.6 494.2 382.1 491.7C380.6 489.2 379.5 486.6 379 484.1C378.5 481.6 378.6 478.8 379 476.5" stroke-width="1.45"/>
<path d="M578.3 545L559.6 573.3Q558.6 575 560.6 576L598.6 595.2Q600.3 596 601.2 594.2L616.8 566.6" stroke-width="1.45"/>
<path d="M568.9 559.8C571.7 561.1 580.8 564.9 585.6 567.4C590.4 569.9 593.7 572.9 597.8 575C601.9 577.1 608 579.4 610 580.3" stroke-width="1.45"/>
<path d="M392.8 346.7C395.3 345.2 402.8 340.9 408 338C413.2 335.1 421.3 330.5 424 329" stroke-width="2.8" stroke-linecap="butt"/>
<path d="M101.4 386.8C101.8 387.9 102.7 391.3 103.7 393.7C104.7 396.1 105.7 398.8 107.5 401.3C109.3 403.8 111.9 406.1 114.3 408.9C116.7 411.7 119.6 415 121.9 418C124.2 421 126.1 423.8 128 427.1C129.9 430.4 131.7 434.2 133.3 437.8C135 441.4 136.2 444.6 137.9 448.4C139.6 452.2 141.7 457.1 143.2 460.6C144.7 464.2 145.6 466.7 147 469.7C148.4 472.7 149.7 474.9 151.4 478.5C153.2 482.1 155.5 487 157.5 491C159.5 495 161.6 498.9 163.4 502.5C165.2 506.1 167.7 510.9 168.6 512.6" stroke-width="2.9" stroke-linecap="butt"/>
<path d="M67.7 480.7C69 482.2 72.7 487.2 75.2 490C77.7 492.8 79.8 495.1 82.8 497.6C85.8 500.1 89.7 502.8 93.5 505.2C97.3 507.6 101.8 509.4 105.6 512.1C109.4 514.8 113 518 116.3 521.2C119.6 524.4 122.4 527.7 125.4 531.1C128.4 534.5 131.7 538.2 134.5 541.7C137.3 545.2 140.3 549.9 142.1 552.4C143.9 554.9 144.7 556.1 145.2 556.9" stroke-width="3.2" stroke-linecap="butt"/>
<path d="M228.3 343.1C229.9 342.7 233.4 340.7 238 340.6C242.6 340.5 250.3 341.7 255.8 342.6C261.3 343.5 263.4 345.6 271 346.1C278.6 346.6 292.1 345.5 301.4 345.6C310.7 345.7 319.9 346.6 326.7 346.9C333.5 347.1 336.9 347.3 342 347.1C347.1 346.9 352.5 345.8 357.2 345.6C361.9 345.5 365.3 346.1 370 346.2C374.7 346.3 381.1 346.3 385.2 346.5C389.2 346.7 391.2 346.8 394.3 347.3C397.4 347.8 400.4 348.6 403.5 349.5C406.6 350.4 409.6 351.3 412.6 352.6C415.6 353.9 418.7 355.7 421.7 357.1C424.7 358.5 427.2 359.7 430.8 361C434.4 362.3 438.9 363.5 443 364.8C447.1 366.1 451.1 367.3 455.2 368.6C459.2 369.9 463.2 371.2 467.3 372.4C471.4 373.6 475.6 374.7 479.5 375.9C483.4 377.1 486.4 378 490.8 379.6C495.2 381.2 500.9 383.5 506 385.3C511.1 387.1 517.3 389 521.3 390.3C525.3 391.6 526.5 392 530 393.3C533.5 394.6 538.2 397 542.2 398.4C546.2 399.8 550 400.9 554.3 401.9C558.6 402.9 563.4 403.2 568 404.4C572.6 405.6 577.1 407.2 581.7 409C586.3 410.8 590.8 413.2 595.4 415.1C600 417.1 604.5 419.1 609.1 420.7C613.7 422.3 619.3 424.1 622.8 425C626.3 425.9 627.3 425.8 630 426.4C632.7 427 635.8 427.6 639.1 428.4C642.4 429.2 646.5 430 649.8 431C653.1 432 656.1 433.1 658.9 434.4C661.7 435.7 664.2 437.1 666.5 439C668.8 440.9 670.6 443.5 672.6 445.9C674.6 448.3 676.4 450.9 678.7 453.5C681 456.1 683.8 458.9 686.3 461.8C688.8 464.7 691.6 467.8 693.9 471C696.2 474.2 698.1 477.5 700 480.8C701.9 484.1 703.8 487.6 705.3 490.7C706.8 493.8 708.2 497.7 708.8 499.1" stroke-width="2.8" stroke-linecap="butt"/>
<path d="M252.6 311.4C250.9 314.1 245.4 323.6 242.5 327.9C239.6 332.2 237.3 334.5 235 337C232.7 339.5 232.4 340.2 228.6 343.1C224.8 346 214.8 352.6 212.1 354.5" stroke-width="3" stroke-linecap="butt"/>
<path d="M228.6 343.1C225.8 345 216.6 350.6 212.1 354.5C207.6 358.4 204.4 362.2 201.5 366.5C198.6 370.8 197 375.7 194.9 380C192.8 384.3 190.8 387.9 188.9 392.2C187 396.5 185 401.3 183.5 405.9C182 410.4 180.8 415.2 179.7 419.5C178.6 423.8 177.6 427.6 177 431.7C176.4 435.8 175.9 439.8 175.9 443.9C175.9 447.9 176.8 454 177 456" stroke-width="3.4" stroke-linecap="butt"/>
<path d="M175.9 443.9C176.1 445.9 176.5 451.7 177 456C177.5 460.3 178.8 464.3 179 469.7C179.2 475.1 178.8 482.9 178 488.3C177.2 493.7 175.5 498.1 174.1 502.2C172.7 506.3 171 509 169.5 512.8C168 516.6 166.7 521 164.9 525C163.1 529 160.9 533.3 158.9 537.1C156.9 540.9 154.7 544.5 152.8 547.8C150.9 551.1 149.2 553.6 147.5 556.9C145.8 560.2 144.6 563.8 142.9 567.6C141.2 571.5 139.1 576.1 137.2 580C135.3 583.9 133.5 587 131.7 590.9C129.9 594.8 128 598.7 126.3 603.4C124.6 608.1 123 613.9 121.6 619.1C120.2 624.3 118.7 629.5 117.7 634.7C116.7 639.9 116.2 645.3 115.7 650.3C115.2 655.2 115 659.7 114.6 664.4C114.2 669.1 113.6 673.7 113.1 678.4C112.6 683.1 112 688.1 111.5 692.5C111 696.9 110.5 700.3 110 705C109.5 709.7 109 715.8 108.4 720.6C107.8 725.4 107.1 730.4 106.6 734C106 737.6 105.6 738.6 105.1 742.2C104.6 745.9 103.9 751.1 103.5 755.9C103.1 760.7 102.7 766 102.7 771.1C102.7 776.2 103.2 781.2 103.5 786.3C103.8 791.4 104.2 796.4 104.7 801.5C105.2 806.6 105.7 811.4 106.2 816.7C106.8 822 107.4 828.1 108 833.4C108.6 838.7 109.2 843.9 109.8 848.6C110.4 853.3 111.5 859.4 111.8 861.6" stroke-width="3.7" stroke-linecap="butt"/>
<path d="M392.8 346.7C395.3 345.2 402.8 340.9 408 338C413.2 335.1 421.3 330.5 424 329" stroke="#fff" stroke-width="1" stroke-linecap="butt"/>
<path d="M101.4 386.8C101.8 387.9 102.7 391.3 103.7 393.7C104.7 396.1 105.7 398.8 107.5 401.3C109.3 403.8 111.9 406.1 114.3 408.9C116.7 411.7 119.6 415 121.9 418C124.2 421 126.1 423.8 128 427.1C129.9 430.4 131.7 434.2 133.3 437.8C135 441.4 136.2 444.6 137.9 448.4C139.6 452.2 141.7 457.1 143.2 460.6C144.7 464.2 145.6 466.7 147 469.7C148.4 472.7 149.7 474.9 151.4 478.5C153.2 482.1 155.5 487 157.5 491C159.5 495 161.6 498.9 163.4 502.5C165.2 506.1 167.7 510.9 168.6 512.6" stroke="#fff" stroke-width="1.1" stroke-linecap="butt"/>
<path d="M67.7 480.7C69 482.2 72.7 487.2 75.2 490C77.7 492.8 79.8 495.1 82.8 497.6C85.8 500.1 89.7 502.8 93.5 505.2C97.3 507.6 101.8 509.4 105.6 512.1C109.4 514.8 113 518 116.3 521.2C119.6 524.4 122.4 527.7 125.4 531.1C128.4 534.5 131.7 538.2 134.5 541.7C137.3 545.2 140.3 549.9 142.1 552.4C143.9 554.9 144.7 556.1 145.2 556.9" stroke="#fff" stroke-width="1.5" stroke-linecap="butt"/>
<path d="M228.3 343.1C229.9 342.7 233.4 340.7 238 340.6C242.6 340.5 250.3 341.7 255.8 342.6C261.3 343.5 263.4 345.6 271 346.1C278.6 346.6 292.1 345.5 301.4 345.6C310.7 345.7 319.9 346.6 326.7 346.9C333.5 347.1 336.9 347.3 342 347.1C347.1 346.9 352.5 345.8 357.2 345.6C361.9 345.5 365.3 346.1 370 346.2C374.7 346.3 381.1 346.3 385.2 346.5C389.2 346.7 391.2 346.8 394.3 347.3C397.4 347.8 400.4 348.6 403.5 349.5C406.6 350.4 409.6 351.3 412.6 352.6C415.6 353.9 418.7 355.7 421.7 357.1C424.7 358.5 427.2 359.7 430.8 361C434.4 362.3 438.9 363.5 443 364.8C447.1 366.1 451.1 367.3 455.2 368.6C459.2 369.9 463.2 371.2 467.3 372.4C471.4 373.6 475.6 374.7 479.5 375.9C483.4 377.1 486.4 378 490.8 379.6C495.2 381.2 500.9 383.5 506 385.3C511.1 387.1 517.3 389 521.3 390.3C525.3 391.6 526.5 392 530 393.3C533.5 394.6 538.2 397 542.2 398.4C546.2 399.8 550 400.9 554.3 401.9C558.6 402.9 563.4 403.2 568 404.4C572.6 405.6 577.1 407.2 581.7 409C586.3 410.8 590.8 413.2 595.4 415.1C600 417.1 604.5 419.1 609.1 420.7C613.7 422.3 619.3 424.1 622.8 425C626.3 425.9 627.3 425.8 630 426.4C632.7 427 635.8 427.6 639.1 428.4C642.4 429.2 646.5 430 649.8 431C653.1 432 656.1 433.1 658.9 434.4C661.7 435.7 664.2 437.1 666.5 439C668.8 440.9 670.6 443.5 672.6 445.9C674.6 448.3 676.4 450.9 678.7 453.5C681 456.1 683.8 458.9 686.3 461.8C688.8 464.7 691.6 467.8 693.9 471C696.2 474.2 698.1 477.5 700 480.8C701.9 484.1 703.8 487.6 705.3 490.7C706.8 493.8 708.2 497.7 708.8 499.1" stroke="#fff" stroke-width="1" stroke-linecap="butt"/>
<path d="M252.6 311.4C250.9 314.1 245.4 323.6 242.5 327.9C239.6 332.2 237.3 334.5 235 337C232.7 339.5 232.4 340.2 228.6 343.1C224.8 346 214.8 352.6 212.1 354.5" stroke="#fff" stroke-width="1.2" stroke-linecap="butt"/>
<path d="M228.6 343.1C225.8 345 216.6 350.6 212.1 354.5C207.6 358.4 204.4 362.2 201.5 366.5C198.6 370.8 197 375.7 194.9 380C192.8 384.3 190.8 387.9 188.9 392.2C187 396.5 185 401.3 183.5 405.9C182 410.4 180.8 415.2 179.7 419.5C178.6 423.8 177.6 427.6 177 431.7C176.4 435.8 175.9 439.8 175.9 443.9C175.9 447.9 176.8 454 177 456" stroke="#fff" stroke-width="1.6" stroke-linecap="butt"/>
<path d="M175.9 443.9C176.1 445.9 176.5 451.7 177 456C177.5 460.3 178.8 464.3 179 469.7C179.2 475.1 178.8 482.9 178 488.3C177.2 493.7 175.5 498.1 174.1 502.2C172.7 506.3 171 509 169.5 512.8C168 516.6 166.7 521 164.9 525C163.1 529 160.9 533.3 158.9 537.1C156.9 540.9 154.7 544.5 152.8 547.8C150.9 551.1 149.2 553.6 147.5 556.9C145.8 560.2 144.6 563.8 142.9 567.6C141.2 571.5 139.1 576.1 137.2 580C135.3 583.9 133.5 587 131.7 590.9C129.9 594.8 128 598.7 126.3 603.4C124.6 608.1 123 613.9 121.6 619.1C120.2 624.3 118.7 629.5 117.7 634.7C116.7 639.9 116.2 645.3 115.7 650.3C115.2 655.2 115 659.7 114.6 664.4C114.2 669.1 113.6 673.7 113.1 678.4C112.6 683.1 112 688.1 111.5 692.5C111 696.9 110.5 700.3 110 705C109.5 709.7 109 715.8 108.4 720.6C107.8 725.4 107.1 730.4 106.6 734C106 737.6 105.6 738.6 105.1 742.2C104.6 745.9 103.9 751.1 103.5 755.9C103.1 760.7 102.7 766 102.7 771.1C102.7 776.2 103.2 781.2 103.5 786.3C103.8 791.4 104.2 796.4 104.7 801.5C105.2 806.6 105.7 811.4 106.2 816.7C106.8 822 107.4 828.1 108 833.4C108.6 838.7 109.2 843.9 109.8 848.6C110.4 853.3 111.5 859.4 111.8 861.6" stroke="#fff" stroke-width="2" stroke-linecap="butt"/>
<path d="M102.8 700.3L106.7 696.4M106.3 703.4L109.4 699.9" stroke-width="1.05"/>
<path d="M459.9 336.8L514.6 274.3" stroke-width="1.2"/><path d="M514.6 274.3L500.2 279.4L512 289.5Z" stroke-width="1.25"/>
<rect x="584.3" y="289.4" width="124.9" height="5.1" stroke-width="0.85"/>
<path d="M612.2 289.4V294.5M645.4 289.4V294.5" stroke-width="0.8"/>
<path d="M584.6 291.3H708.8" stroke="#707070" stroke-width="2.4" stroke-dasharray="1.3 0.4" stroke-linecap="butt"/>
<path d="M118.4 832.2L121 853.2M118.1 849.8L121 853.2L122.8 849.2" stroke-width="1.1"/>
<path d="M253.4 738.8L254.5 737.1L257.4 739.2" stroke-width="1.1"/>
<text transform="translate(82.6 201.6) scale(1 1)" font-size="14" font-weight="normal" stroke="#111" stroke-width="0.28" textLength="64.4" lengthAdjust="spacing">SKETCH</text>
<text transform="translate(158.2 201.6) scale(1 1)" font-size="14" font-weight="normal" stroke="#111" stroke-width="0.28" textLength="42.1" lengthAdjust="spacing">PLAN</text>
<text transform="translate(213 201.6) scale(1 1)" font-size="14" font-weight="normal" stroke="#111" stroke-width="0.28" textLength="21.2" lengthAdjust="spacing">OF</text>
<text transform="translate(246.9 201.6) scale(1 1)" font-size="14" font-weight="normal" stroke="#111" stroke-width="0.28" textLength="31.9" lengthAdjust="spacing">THE</text>
<text transform="translate(292.5 201.6) scale(1 1)" font-size="14" font-weight="normal" stroke="#111" stroke-width="0.28" textLength="92.8" lengthAdjust="spacing">ACROPOLIS</text>
<text transform="translate(400 201.6) scale(1 1)" font-size="14" font-weight="normal" stroke="#111" stroke-width="0.28" textLength="21.4" lengthAdjust="spacing">OF</text>
<text transform="translate(436.5 201.6) scale(1 1)" font-size="14" font-weight="normal" stroke="#111" stroke-width="0.28" textLength="56.2" lengthAdjust="spacing">PHLIUS</text>
<text transform="translate(149.5 225.7) scale(1 1)" font-size="11.3" font-weight="normal" stroke="#111" stroke-width="0.3" textLength="95.1" lengthAdjust="spacing">DISTRIBUTION</text>
<text transform="translate(254.8 225.7) scale(1.15 1)" font-size="11.3" font-weight="normal" stroke="#111" stroke-width="0.3" textLength="16.5" lengthAdjust="spacing">OF</text>
<text transform="translate(283.7 225.7) scale(1 1)" font-size="11.3" font-weight="normal" stroke="#111" stroke-width="0.3" textLength="92" lengthAdjust="spacing">PREHISTORIC</text>
<text transform="translate(385.2 225.7) scale(1 1)" font-size="11.3" font-weight="normal" stroke="#111" stroke-width="0.3" textLength="40" lengthAdjust="spacing">FINDS</text>
<text transform="translate(83.5 256.2) scale(1.0 1)" font-size="8.2" font-weight="bold" stroke="#111" stroke-width="0.25" textLength="12.2" lengthAdjust="spacing">EN</text>
<text transform="translate(121.6 256.2) scale(1.0 1)" font-size="8.2" font-weight="bold" stroke="#111" stroke-width="0.25">-</text>
<text transform="translate(130.4 256.2) scale(1.0 1)" font-size="8.2" font-weight="bold" stroke="#111" stroke-width="0.25" textLength="28.3" lengthAdjust="spacing">Early</text>
<text transform="translate(166.9 256.2) scale(1.0 1)" font-size="8.2" font-weight="bold" stroke="#111" stroke-width="0.25" textLength="50.5" lengthAdjust="spacing">Neolithic</text>
<text transform="translate(83.5 267.1) scale(1.0 1)" font-size="8.2" font-weight="bold" stroke="#111" stroke-width="0.25" textLength="15.2" lengthAdjust="spacing">MN</text>
<text transform="translate(121.6 267.1) scale(1.0 1)" font-size="8.2" font-weight="bold" stroke="#111" stroke-width="0.25">-</text>
<text transform="translate(130.4 267.1) scale(1.0 1)" font-size="8.2" font-weight="bold" stroke="#111" stroke-width="0.25" textLength="35.9" lengthAdjust="spacing">Middle</text>
<text transform="translate(173.9 267.1) scale(1.0 1)" font-size="8.2" font-weight="bold" stroke="#111" stroke-width="0.25" textLength="47.7" lengthAdjust="spacing">Neolithic</text>
<text transform="translate(83.5 277.2) scale(1.0 1)" font-size="8.2" font-weight="bold" stroke="#111" stroke-width="0.25" textLength="34.1" lengthAdjust="spacing">LN-EH</text>
<text transform="translate(121.6 277.2) scale(1.0 1)" font-size="8.2" font-weight="bold" stroke="#111" stroke-width="0.25">-</text>
<text transform="translate(130.4 277.2) scale(1.0 1)" font-size="8.2" font-weight="bold" stroke="#111" stroke-width="0.25" textLength="24.3" lengthAdjust="spacing">Late</text>
<text transform="translate(163.2 277.2) scale(1.0 1)" font-size="8.2" font-weight="bold" stroke="#111" stroke-width="0.25" textLength="47.8" lengthAdjust="spacing">Neolithic</text>
<text transform="translate(215.4 277.2) scale(1.0 1)" font-size="8.2" font-weight="bold" stroke="#111" stroke-width="0.25">-</text>
<text transform="translate(224.7 277.2) scale(1.0 1)" font-size="8.2" font-weight="bold" stroke="#111" stroke-width="0.25" textLength="28.3" lengthAdjust="spacing">Early</text>
<text transform="translate(261.2 277.2) scale(1.0 1)" font-size="8.2" font-weight="bold" stroke="#111" stroke-width="0.25" textLength="43.5" lengthAdjust="spacing">Helladic</text>
<text transform="translate(83.5 287.4) scale(1.0 1)" font-size="8.2" font-weight="bold" stroke="#111" stroke-width="0.25" textLength="13.4" lengthAdjust="spacing">EH</text>
<text transform="translate(121.6 287.4) scale(1.0 1)" font-size="8.2" font-weight="bold" stroke="#111" stroke-width="0.25">-</text>
<text transform="translate(130.4 287.4) scale(1.0 1)" font-size="8.2" font-weight="bold" stroke="#111" stroke-width="0.25" textLength="28.3" lengthAdjust="spacing">Early</text>
<text transform="translate(166.3 287.4) scale(1.0 1)" font-size="8.2" font-weight="bold" stroke="#111" stroke-width="0.25" textLength="43.2" lengthAdjust="spacing">Helladic</text>
<text transform="translate(83.5 297.5) scale(1.0 1)" font-size="8.2" font-weight="bold" stroke="#111" stroke-width="0.25" textLength="14.3" lengthAdjust="spacing">LH</text>
<text transform="translate(121.6 297.5) scale(1.0 1)" font-size="8.2" font-weight="bold" stroke="#111" stroke-width="0.25">-</text>
<text transform="translate(130.4 297.5) scale(1.0 1)" font-size="8.2" font-weight="bold" stroke="#111" stroke-width="0.25" textLength="24.3" lengthAdjust="spacing">Late</text>
<text transform="translate(163.8 297.5) scale(1.0 1)" font-size="8.2" font-weight="bold" stroke="#111" stroke-width="0.25" textLength="45" lengthAdjust="spacing">Helladic</text>
<text transform="translate(86.6 366.4) scale(1.0 1)" font-size="9" font-weight="bold" stroke="#111" stroke-width="0.35" textLength="34.7" lengthAdjust="spacing">AREA</text>
<text transform="translate(129.7 366.4) scale(1.0 1)" font-size="9" font-weight="bold" stroke="#111" stroke-width="0.35">1</text>
<text transform="translate(81 384.2) scale(1.0 1)" font-size="9" font-weight="bold" stroke="#111" stroke-width="0.35" textLength="13.2" lengthAdjust="spacing">EN</text>
<text transform="translate(102.6 384.2) scale(1.0 1)" font-size="9" font-weight="bold" stroke="#111" stroke-width="0.35" textLength="16.2" lengthAdjust="spacing">MN</text>
<text transform="translate(126.4 384.2) scale(1.0 1)" font-size="9" font-weight="bold" stroke="#111" stroke-width="0.35" textLength="14.2" lengthAdjust="spacing">EH</text>
<text transform="translate(113.2 394.3) scale(1.0 1)" font-size="9" font-weight="bold" stroke="#111" stroke-width="0.35" textLength="13.2" lengthAdjust="spacing">LH</text>
<text transform="translate(467.1 522.5) scale(1.0 1)" font-size="9.2" font-weight="bold" stroke="#111" stroke-width="0.35" textLength="34.3" lengthAdjust="spacing">AREA</text>
<text transform="translate(511.3 522.5) scale(1.0 1)" font-size="9.2" font-weight="bold" stroke="#111" stroke-width="0.35">2</text>
<text transform="translate(472.2 542.2) scale(1.0 1)" font-size="9" font-weight="bold" stroke="#111" stroke-width="0.35" textLength="34.2" lengthAdjust="spacing">LN-EH</text>
<text transform="translate(579.4 542.7) scale(1.0 1)" font-size="9.2" font-weight="bold" stroke="#111" stroke-width="0.35" textLength="32" lengthAdjust="spacing">AREA</text>
<text transform="translate(619 542.7) scale(1.0 1)" font-size="9.2" font-weight="bold" stroke="#111" stroke-width="0.35">3</text>
<text transform="translate(570.9 580.3) scale(1.0 1)" font-size="9.2" font-weight="bold" stroke="#111" stroke-width="0.35" textLength="13.2" lengthAdjust="spacing">EH</text>
<text transform="translate(616 578.8) scale(1.0 1)" font-size="9.2" font-weight="bold" stroke="#111" stroke-width="0.35" textLength="13.7" lengthAdjust="spacing">EH</text>
<text transform="translate(624.1 600.1) scale(1.0 1)" font-size="9.2" font-weight="bold" stroke="#111" stroke-width="0.35" textLength="13.2" lengthAdjust="spacing">EH</text>
<text transform="translate(512.4 269.9) scale(1.0 1)" font-size="10.2" font-weight="normal" stroke="#111" stroke-width="0.55" textLength="7.3" lengthAdjust="spacing">N</text>
<text transform="translate(581.4 287.9) scale(1.25 1)" font-size="8.8" font-weight="normal" stroke="#111" stroke-width="0.55">0</text>
<text transform="translate(638.6 287.9) scale(1.2 1)" font-size="8.8" font-weight="normal" stroke="#111" stroke-width="0.55" textLength="13.8" lengthAdjust="spacing">100</text>
<text transform="translate(699.4 287.9) scale(1.2 1)" font-size="8.8" font-weight="normal" stroke="#111" stroke-width="0.55" textLength="14.8" lengthAdjust="spacing">200</text>
<text transform="translate(720.6 295.4) scale(1.0 1)" font-size="9" font-weight="normal" stroke="#111" stroke-width="0.5" textLength="11.8" lengthAdjust="spacing">M.</text>
<text font-size="9" font-weight="normal" stroke="#111" stroke-width="0.55" textLength="38.4" lengthAdjust="spacing" transform="translate(260.9 741.2) rotate(41.4) scale(1.0 1)">GULLY</text>
<text font-size="9.6" font-weight="normal" stroke="#111" stroke-width="0.55" textLength="41" lengthAdjust="spacing" transform="translate(111.5 786) rotate(86) scale(1.0 1)">NEMEA</text>

</svg>
</body></html>
